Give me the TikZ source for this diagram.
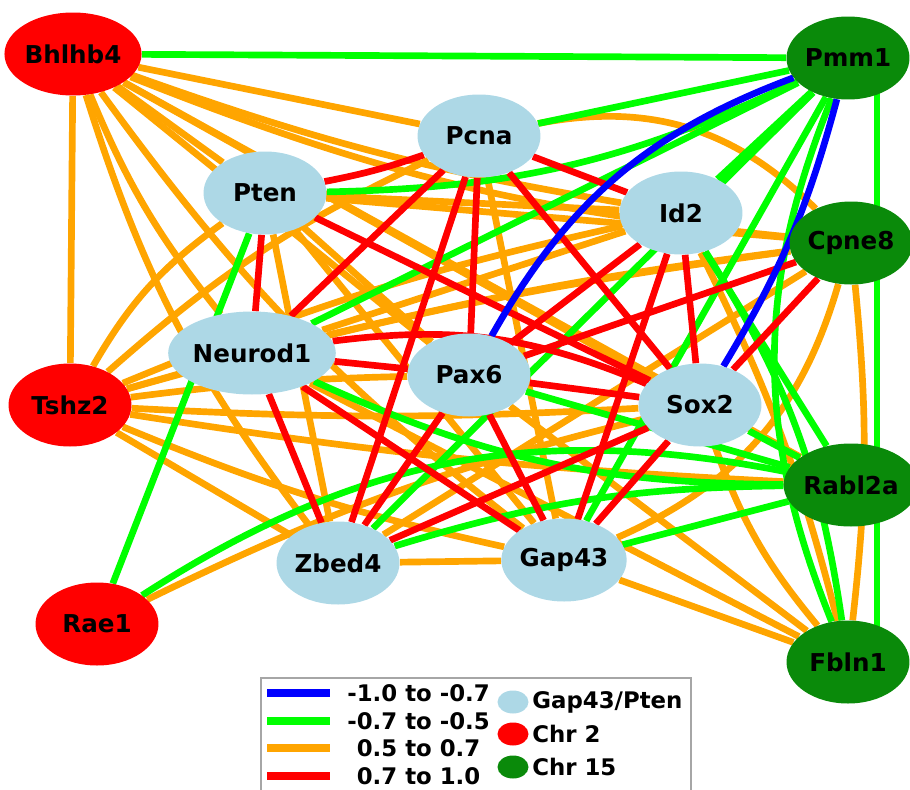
\documentclass[tikz,border=0pt]{standalone}
\usepackage{fontspec}
\setmainfont{DejaVu Sans}
\usetikzlibrary{shapes.geometric, backgrounds}

\definecolor{nodeblue}{RGB}{173,216,230}
\definecolor{chrred}{RGB}{255,0,0}
\definecolor{chrgreen}{RGB}{10,138,10}
\definecolor{edgegreen}{RGB}{0,255,0}
\definecolor{edgeorange}{RGB}{255,165,0}
\definecolor{edgered}{RGB}{255,0,0}
\definecolor{edgeblue}{RGB}{0,0,255}

\tikzset{
	gene/.style={ellipse, minimum width=2.46cm, minimum height=1.66cm, inner sep=0pt,
		font=\fontsize{14}{16}\selectfont\bfseries},
	setgene/.style={gene, fill=nodeblue},
	chrtwo/.style={gene, fill=chrred},
	chrfifteen/.style={gene, fill=chrgreen},
	link/.style={line width=3.8pt},
	vnegedge/.style={link, edgeblue},
	negedge/.style={link, edgegreen},
	posedge/.style={link, edgeorange},
	strongedge/.style={link, edgered},
	legtext/.style={anchor=west, inner sep=0pt, font=\fontsize{13}{15}\selectfont\bfseries},
	legdot/.style={ellipse, minimum width=0.62cm, minimum height=0.46cm, inner sep=0pt},
}

\begin{document}
\begin{tikzpicture}[x=0.02cm, y=-0.02cm]
	\useasboundingbox (0,0) rectangle (910,789);

	% genes of the Gap43/Pten set
	\node[setgene] (Pcna) at (479,136) {Pcna};
	\node[setgene] (Pten) at (265,193) {Pten};
	\node[setgene] (Id2) at (681,213) {Id2};
	\node[setgene] (Neurod1) at (252,353) {Neurod1};
	\node[setgene] (Pax6) at (469,375) {Pax6};
	\node[setgene] (Sox2) at (700,405) {Sox2};
	\node[setgene] (Zbed4) at (338,563) {Zbed4};
	\node[setgene] (Gap43) at (564,560) {Gap43};

	% Chr 2
	\node[chrtwo] (Bhlhb4) at (73,54) {Bhlhb4};
	\node[chrtwo] (Tshz2) at (70,405) {Tshz2};
	\node[chrtwo] (Rae1) at (97,624) {Rae1};

	% Chr 15
	\node[chrfifteen] (Pmm1) at (848,58) {Pmm1};
	\node[chrfifteen] (Cpne8) at (851,243) {Cpne8};
	\node[chrfifteen] (Rabl2a) at (851,485) {Rabl2a};
	\node[chrfifteen] (Fbln1) at (848,662) {Fbln1};

	\begin{scope}[on background layer]
		% 0.5 to 0.7
		\begin{scope}[posedge]
			\draw (Bhlhb4) -- (Tshz2);
			\draw (Bhlhb4) -- (Pcna);
			\draw (Bhlhb4) -- (Pten);
			\draw (Bhlhb4) to[bend right=5] (Id2);
			\draw (Bhlhb4) to[bend right=8] (Cpne8);
			\draw (Bhlhb4) to[bend right=8] (Neurod1);
			\draw (Bhlhb4) -- (Pax6);
			\draw (Bhlhb4) -- (Sox2);
			\draw (Bhlhb4) to[bend right=10] (Zbed4);
			\draw (Bhlhb4) to[bend right=8] (Gap43);
			\draw (Bhlhb4) -- (Rabl2a);
			\draw (Tshz2) to[bend left=12] (Pten);
			\draw (Tshz2) to[bend left=8] (Pcna);
			\draw (Tshz2) to[bend left=5] (Id2);
			\draw (Tshz2) to[bend left=4] (Cpne8);
			\draw (Tshz2) -- (Neurod1);
			\draw (Tshz2) to[bend left=3] (Pax6);
			\draw (Tshz2) to[bend right=3] (Sox2);
			\draw (Tshz2) -- (Zbed4);
			\draw (Tshz2) to[bend right=5] (Gap43);
			\draw (Tshz2) to[bend right=3] (Rabl2a);
			\draw (Rae1) to[bend left=6] (Sox2);
			\draw (Pten) -- (Id2);
			\draw (Pten) -- (Cpne8);
			\draw (Pten) -- (Pax6);
			\draw (Pten) -- (Zbed4);
			\draw (Pten) -- (Gap43);
			\draw (Pcna) to[bend left=28] (Cpne8);
			\draw (Pcna) -- (Gap43);
			\draw (Neurod1) -- (Id2);
			\draw (Neurod1) to[bend left=3] (Cpne8);
			\draw (Neurod1) -- (Fbln1);
			\draw (Zbed4) -- (Gap43);
			\draw (Zbed4) -- (Cpne8);
			\draw (Gap43) to[bend right=25] (Cpne8);
			\draw (Gap43) -- (Fbln1);
			\draw (Pax6) -- (Fbln1);
			\draw (Sox2) to[bend right=10] (Fbln1);
			\draw (Id2) to[bend left=6] (Fbln1);
			\draw (Cpne8) to[bend left=6] (Fbln1);
		\end{scope}

		% -0.7 to -0.5
		\begin{scope}[negedge]
			\draw (Bhlhb4) -- (Pmm1);
			\draw (Pcna) -- (Pmm1);
			\draw (Pten) to[bend right=12] (Pmm1);
			\draw (Neurod1) -- (Pmm1);
			\draw (Id2) -- (Pmm1);
			\draw (Zbed4) -- (Pmm1);
			\draw (Gap43) -- (Pmm1);
			\draw ([xshift=0.58cm]Pmm1.center) -- ([xshift=0.58cm]Fbln1.center);
			\draw (Pmm1) to[bend right=22] (Fbln1);
			\draw (Rae1) -- (Pten);
			\draw (Rae1) to[bend left=22] (Rabl2a);
			\draw (Neurod1) to[bend right=12] (Rabl2a);
			\draw (Zbed4) to[bend left=8] (Rabl2a);
			\draw (Gap43) -- (Rabl2a);
			\draw (Pax6) -- (Rabl2a);
			\draw (Sox2) -- (Rabl2a);
			\draw (Id2) -- (Rabl2a);
			\draw (Id2) to[bend left=12] (Fbln1);
		\end{scope}

		% 0.7 to 1.0
		\begin{scope}[strongedge]
			\draw (Pcna) to[bend left=4] (Pten);
			\draw (Pcna) -- (Id2);
			\draw (Pcna) -- (Neurod1);
			\draw (Pcna) -- (Pax6);
			\draw (Pcna) -- (Zbed4);
			\draw (Pcna) -- (Sox2);
			\draw (Pten) -- (Neurod1);
			\draw (Pten) -- (Sox2);
			\draw (Id2) -- (Pax6);
			\draw (Id2) -- (Sox2);
			\draw (Id2) -- (Gap43);
			\draw (Neurod1) -- (Pax6);
			\draw (Neurod1) to[bend left=15] (Sox2);
			\draw (Neurod1) -- (Zbed4);
			\draw (Neurod1) -- (Gap43);
			\draw (Pax6) -- (Sox2);
			\draw (Pax6) -- (Zbed4);
			\draw (Pax6) -- (Gap43);
			\draw (Sox2) -- (Zbed4);
			\draw (Sox2) -- (Gap43);
			\draw (Cpne8) -- (Pax6);
			\draw (Cpne8) -- (Sox2);
		\end{scope}

		% -1.0 to -0.7
		\begin{scope}[vnegedge]
			\draw (Pmm1) to[bend right=20] (Pax6);
			\draw (Pmm1) to[bend left=8] (Sox2);
		\end{scope}
	\end{scope}

	% legend
	\draw[gray!70, line width=0.8pt] (261,678) rectangle (691,800);
	\draw[edgeblue, line width=4.5pt] (267,693) -- (330,693);
	\draw[edgegreen, line width=4.5pt] (267,721) -- (330,721);
	\draw[edgeorange, line width=4.5pt] (267,748) -- (330,748);
	\draw[edgered, line width=4.5pt] (267,776) -- (330,776);
	\node[legtext] (legvneg) at (347,693) {-1.0 to -0.7};
	\node[legtext] (legneg) at (347,721) {-0.7 to -0.5};
	\node[legtext] (legpos) at (347,748) {\phantom{-}0.5 to 0.7};
	\node[legtext] (legstrong) at (347,776) {\phantom{-}0.7 to 1.0};
	\node[legdot, fill=nodeblue] (dotset) at (513,702) {};
	\node[legdot, fill=chrred] (dottwo) at (513,734) {};
	\node[legdot, fill=chrgreen] (dotfifteen) at (513,767) {};
	\node[legtext] (legset) at (532,702) {Gap43/Pten};
	\node[legtext] (legtwo) at (532,734) {Chr 2};
	\node[legtext] (legfifteen) at (532,767) {Chr 15};
\end{tikzpicture}
\end{document}
